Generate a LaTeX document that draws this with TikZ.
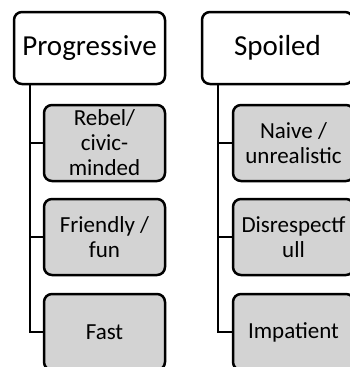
\documentclass[tikz,border=0pt]{standalone}
\usepackage{fontspec}
\setmainfont{Carlito}
\definecolor{boxgray}{RGB}{211,211,211}
\tikzstyle{head}=[draw, fill=white, rounded corners=8pt, line width=2.5pt,
  minimum width=151pt, minimum height=72pt, inner sep=0pt,
  font=\fontsize{29}{32}\selectfont]
\tikzstyle{leaf}=[draw, fill=boxgray, rounded corners=8pt, line width=2.5pt,
  minimum width=121pt, minimum height=76pt, inner sep=0pt, align=center,
  font=\fontsize{23}{25}\selectfont]

\begin{document}
\begin{tikzpicture}[x=1pt, y=-1pt, line width=2.5pt]
\useasboundingbox (0,0) rectangle (350,367);
% Heads
    \node[head] (prog) at (89.5,48) {Progressive};
    \node[head] (spoil) at (277.5,48) {Spoiled};
% Leaves
    \node[leaf] (rebel) at (104.5,143) {Rebel/\\civic-\\minded};
    \node[leaf] (friendly) at (104.5,237) {Friendly /\\fun};
    \node[leaf] (fast) at (104.5,332) {Fast};
    \node[leaf] (naive) at (293.5,143) {Naive /\\unrealistic};
    \node[leaf] (disresp) at (293.5,237) {Disrespectf\\ull};
    \node[leaf] (impat) at (293.5,332) {Impatient};
% Stems
    \coordinate (pstem) at (30,84);
    \coordinate (sstem) at (218,84);
% Links
    \draw (pstem) |- (rebel.west);
    \draw (pstem) |- (friendly.west);
    \draw (pstem) |- (fast.west);
    \draw (sstem) |- (naive.west);
    \draw (sstem) |- (disresp.west);
    \draw (sstem) |- (impat.west);
\end{tikzpicture}
\end{document}
